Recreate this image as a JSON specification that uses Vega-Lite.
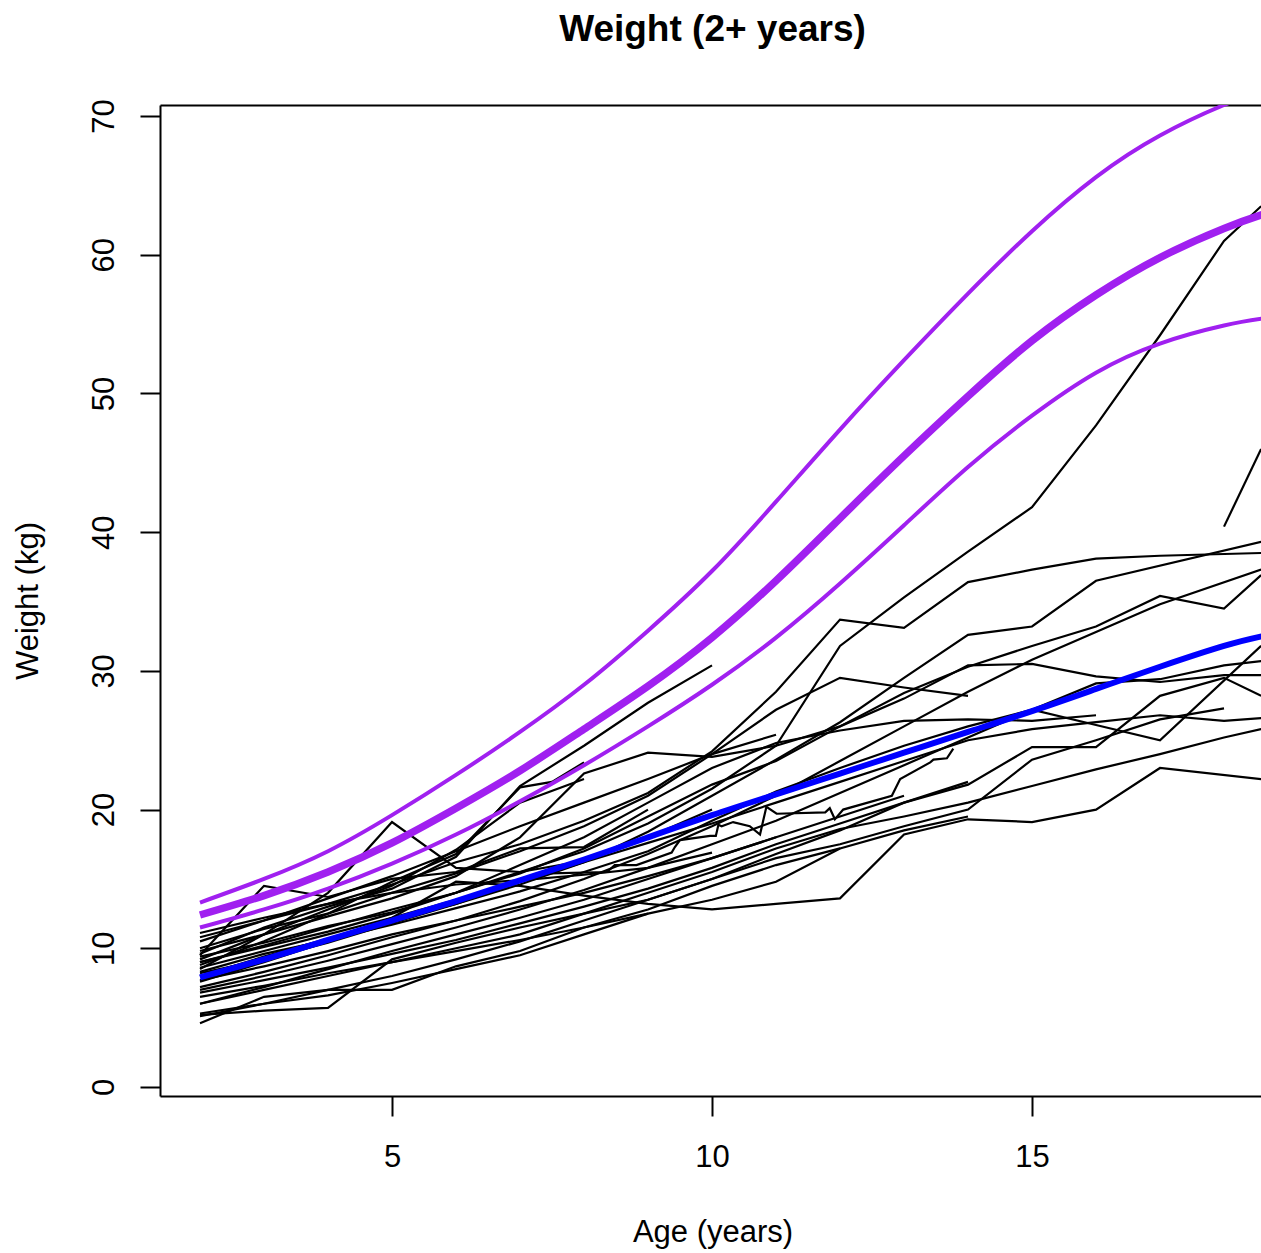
{
"$schema":"https://vega.github.io/schema/vega-lite/v6.json",
"width":1101,"height":991,
"autosize":{"type":"none"},
"padding":{"left":160,"top":105,"right":0,"bottom":157},
"background":"white",
"config":{"view":{"stroke":null},"font":"Liberation Sans"},
"title":{"text":"Weight (2+ years)","fontSize":37,"fontWeight":"bold","color":"black","font":"Liberation Sans","anchor":"middle","frame":"group","baseline":"alphabetic","offset":21,"dx":2},
"datasets":{
"subj":[
{"id":"S1","age":2,"wt":9.0},{"id":"S1","age":3,"wt":10.2},{"id":"S1","age":4,"wt":11.5},{"id":"S1","age":5,"wt":12.8},{"id":"S1","age":6,"wt":14.0},{"id":"S1","age":7,"wt":15.5},{"id":"S1","age":8,"wt":17.0},{"id":"S1","age":9,"wt":19.0},{"id":"S1","age":10,"wt":21.5},{"id":"S1","age":11,"wt":24.6},{"id":"S1","age":12,"wt":31.8},{"id":"S1","age":13,"wt":35.3},{"id":"S1","age":14,"wt":38.6},{"id":"S1","age":15,"wt":41.8},{"id":"S1","age":16,"wt":47.7},{"id":"S1","age":17,"wt":54.2},{"id":"S1","age":18,"wt":61.0},{"id":"S1","age":18.58,"wt":63.5},
{"id":"S2","age":2,"wt":10.5},{"id":"S2","age":3,"wt":12.0},{"id":"S2","age":4,"wt":13.2},{"id":"S2","age":5,"wt":14.6},{"id":"S2","age":6,"wt":16.2},{"id":"S2","age":7,"wt":17.5},{"id":"S2","age":8,"wt":19.2},{"id":"S2","age":9,"wt":21.2},{"id":"S2","age":10,"wt":24.2},{"id":"S2","age":11,"wt":28.5},{"id":"S2","age":12,"wt":33.7},{"id":"S2","age":13,"wt":33.1},{"id":"S2","age":14,"wt":36.4},{"id":"S2","age":15,"wt":37.3},{"id":"S2","age":16,"wt":38.1},{"id":"S2","age":17,"wt":38.3},{"id":"S2","age":18.58,"wt":38.5},
{"id":"S3","age":2,"wt":8.0},{"id":"S3","age":3,"wt":9.4},{"id":"S3","age":4,"wt":10.7},{"id":"S3","age":5,"wt":12.0},{"id":"S3","age":6,"wt":13.2},{"id":"S3","age":7,"wt":14.6},{"id":"S3","age":8,"wt":16.2},{"id":"S3","age":9,"wt":18.4},{"id":"S3","age":10,"wt":21.0},{"id":"S3","age":11,"wt":23.6},{"id":"S3","age":12,"wt":26.3},{"id":"S3","age":13,"wt":29.5},{"id":"S3","age":14,"wt":32.6},{"id":"S3","age":15,"wt":33.2},{"id":"S3","age":16,"wt":36.5},{"id":"S3","age":18.58,"wt":39.3},
{"id":"S4","age":2,"wt":9.4},{"id":"S4","age":3,"wt":10.4},{"id":"S4","age":4,"wt":11.6},{"id":"S4","age":5,"wt":12.6},{"id":"S4","age":6,"wt":14.0},{"id":"S4","age":7,"wt":15.4},{"id":"S4","age":8,"wt":17.2},{"id":"S4","age":9,"wt":19.5},{"id":"S4","age":10,"wt":21.8},{"id":"S4","age":11,"wt":23.5},{"id":"S4","age":12,"wt":26.0},{"id":"S4","age":13,"wt":28.4},{"id":"S4","age":14,"wt":30.3},{"id":"S4","age":15,"wt":31.8},{"id":"S4","age":16,"wt":33.2},{"id":"S4","age":17,"wt":35.4},{"id":"S4","age":18,"wt":34.5},{"id":"S4","age":18.58,"wt":36.9},
{"id":"S5","age":2,"wt":7.2},{"id":"S5","age":3,"wt":8.3},{"id":"S5","age":4,"wt":9.5},{"id":"S5","age":5,"wt":10.8},{"id":"S5","age":6,"wt":12.0},{"id":"S5","age":7,"wt":13.4},{"id":"S5","age":8,"wt":15.0},{"id":"S5","age":9,"wt":16.8},{"id":"S5","age":10,"wt":18.8},{"id":"S5","age":11,"wt":21.0},{"id":"S5","age":12,"wt":23.5},{"id":"S5","age":13,"wt":26.0},{"id":"S5","age":14,"wt":28.5},{"id":"S5","age":15,"wt":30.8},{"id":"S5","age":16,"wt":32.8},{"id":"S5","age":17,"wt":34.8},{"id":"S5","age":18.58,"wt":37.3},
{"id":"S6","age":2,"wt":8.3},{"id":"S6","age":3,"wt":9.6},{"id":"S6","age":4,"wt":10.6},{"id":"S6","age":5,"wt":11.7},{"id":"S6","age":6,"wt":12.9},{"id":"S6","age":7,"wt":14.1},{"id":"S6","age":8,"wt":15.5},{"id":"S6","age":9,"wt":17.0},{"id":"S6","age":10,"wt":19.2},{"id":"S6","age":11,"wt":21.3},{"id":"S6","age":12,"wt":23.0},{"id":"S6","age":13,"wt":24.6},{"id":"S6","age":14,"wt":26.0},{"id":"S6","age":15,"wt":27.2},{"id":"S6","age":16,"wt":26.1},{"id":"S6","age":17,"wt":25.0},{"id":"S6","age":18.58,"wt":31.8},
{"id":"S7","age":2,"wt":9.8},{"id":"S7","age":3,"wt":11.0},{"id":"S7","age":4,"wt":12.3},{"id":"S7","age":5,"wt":13.6},{"id":"S7","age":6,"wt":15.2},{"id":"S7","age":7,"wt":18.0},{"id":"S7","age":8,"wt":22.6},{"id":"S7","age":9,"wt":24.1},{"id":"S7","age":10,"wt":23.8},{"id":"S7","age":11,"wt":24.6},{"id":"S7","age":12,"wt":26.0},{"id":"S7","age":13,"wt":28.0},{"id":"S7","age":14,"wt":30.4},{"id":"S7","age":15,"wt":30.5},{"id":"S7","age":16,"wt":29.6},{"id":"S7","age":17,"wt":29.2},{"id":"S7","age":18,"wt":29.7},{"id":"S7","age":18.58,"wt":29.7},
{"id":"S8","age":2,"wt":7.0},{"id":"S8","age":3,"wt":8.0},{"id":"S8","age":4,"wt":9.1},{"id":"S8","age":5,"wt":10.3},{"id":"S8","age":6,"wt":11.5},{"id":"S8","age":7,"wt":12.8},{"id":"S8","age":8,"wt":14.2},{"id":"S8","age":9,"wt":15.8},{"id":"S8","age":10,"wt":17.5},{"id":"S8","age":11,"wt":19.2},{"id":"S8","age":12,"wt":21.2},{"id":"S8","age":13,"wt":23.2},{"id":"S8","age":14,"wt":25.2},{"id":"S8","age":15,"wt":27.2},{"id":"S8","age":16,"wt":29.1},{"id":"S8","age":17,"wt":29.4},{"id":"S8","age":18,"wt":30.4},{"id":"S8","age":18.58,"wt":30.7},
{"id":"S9","age":2,"wt":6.8},{"id":"S9","age":3,"wt":7.7},{"id":"S9","age":4,"wt":8.6},{"id":"S9","age":5,"wt":9.6},{"id":"S9","age":6,"wt":10.6},{"id":"S9","age":7,"wt":11.8},{"id":"S9","age":8,"wt":13.0},{"id":"S9","age":9,"wt":14.3},{"id":"S9","age":10,"wt":15.8},{"id":"S9","age":11,"wt":17.5},{"id":"S9","age":12,"wt":19.0},{"id":"S9","age":13,"wt":20.5},{"id":"S9","age":14,"wt":21.8},{"id":"S9","age":15,"wt":24.5},{"id":"S9","age":16,"wt":24.5},{"id":"S9","age":17,"wt":28.2},{"id":"S9","age":18,"wt":29.5},{"id":"S9","age":18.58,"wt":28.2},
{"id":"S10","age":2,"wt":8.6},{"id":"S10","age":3,"wt":9.8},{"id":"S10","age":4,"wt":11.0},{"id":"S10","age":5,"wt":12.2},{"id":"S10","age":6,"wt":13.5},{"id":"S10","age":7,"wt":14.8},{"id":"S10","age":8,"wt":16.2},{"id":"S10","age":9,"wt":17.6},{"id":"S10","age":10,"wt":19.0},{"id":"S10","age":11,"wt":20.5},{"id":"S10","age":12,"wt":22.0},{"id":"S10","age":13,"wt":23.5},{"id":"S10","age":14,"wt":25.0},{"id":"S10","age":15,"wt":25.8},{"id":"S10","age":16,"wt":26.3},{"id":"S10","age":17,"wt":26.8},{"id":"S10","age":18,"wt":26.4},{"id":"S10","age":18.58,"wt":26.6},
{"id":"S11","age":2,"wt":6.0},{"id":"S11","age":3,"wt":7.0},{"id":"S11","age":4,"wt":8.0},{"id":"S11","age":5,"wt":9.0},{"id":"S11","age":6,"wt":10.0},{"id":"S11","age":7,"wt":11.0},{"id":"S11","age":8,"wt":12.5},{"id":"S11","age":9,"wt":14.0},{"id":"S11","age":10,"wt":15.5},{"id":"S11","age":11,"wt":17.2},{"id":"S11","age":12,"wt":18.6},{"id":"S11","age":13,"wt":19.5},{"id":"S11","age":14,"wt":20.5},{"id":"S11","age":15,"wt":21.7},{"id":"S11","age":16,"wt":22.9},{"id":"S11","age":17,"wt":24.0},{"id":"S11","age":18,"wt":25.2},{"id":"S11","age":18.58,"wt":25.8},
{"id":"S12","age":2,"wt":7.6},{"id":"S12","age":3,"wt":9.0},{"id":"S12","age":4,"wt":10.5},{"id":"S12","age":5,"wt":12.2},{"id":"S12","age":6,"wt":14.8},{"id":"S12","age":7,"wt":14.5},{"id":"S12","age":8,"wt":13.8},{"id":"S12","age":9,"wt":13.2},{"id":"S12","age":10,"wt":12.8},{"id":"S12","age":11,"wt":13.2},{"id":"S12","age":12,"wt":13.6},{"id":"S12","age":13,"wt":18.2},{"id":"S12","age":14,"wt":19.3},{"id":"S12","age":15,"wt":19.1},{"id":"S12","age":16,"wt":20.0},{"id":"S12","age":17,"wt":23.0},{"id":"S12","age":18.58,"wt":22.2},
{"id":"S13","age":18,"wt":40.4},{"id":"S13","age":18.58,"wt":46.0},
{"id":"S14","age":2,"wt":5.1},{"id":"S14","age":3,"wt":6.0},{"id":"S14","age":4,"wt":7.0},{"id":"S14","age":5,"wt":8.0},{"id":"S14","age":6,"wt":9.2},{"id":"S14","age":7,"wt":10.5},{"id":"S14","age":8,"wt":12.0},{"id":"S14","age":9,"wt":13.5},{"id":"S14","age":10,"wt":15.0},{"id":"S14","age":11,"wt":16.5},{"id":"S14","age":12,"wt":17.5},{"id":"S14","age":13,"wt":18.8},{"id":"S14","age":14,"wt":20.0},{"id":"S14","age":15,"wt":23.6},{"id":"S14","age":16,"wt":25.0},{"id":"S14","age":17,"wt":26.5},{"id":"S14","age":18,"wt":27.3},
{"id":"S15","age":2,"wt":9.0},{"id":"S15","age":3,"wt":10.1},{"id":"S15","age":4,"wt":11.2},{"id":"S15","age":5,"wt":12.5},{"id":"S15","age":6,"wt":14.0},{"id":"S15","age":7,"wt":16.0},{"id":"S15","age":8,"wt":18.0},{"id":"S15","age":9,"wt":20.5},{"id":"S15","age":10,"wt":23.0},{"id":"S15","age":11,"wt":24.8},{"id":"S15","age":12,"wt":25.7},{"id":"S15","age":13,"wt":26.4},{"id":"S15","age":14,"wt":26.5},{"id":"S15","age":15,"wt":26.4},{"id":"S15","age":16,"wt":26.8},
{"id":"S16","age":2,"wt":10.0},{"id":"S16","age":3,"wt":11.4},{"id":"S16","age":4,"wt":12.5},{"id":"S16","age":5,"wt":14.0},{"id":"S16","age":6,"wt":15.4},{"id":"S16","age":7,"wt":17.0},{"id":"S16","age":8,"wt":18.8},{"id":"S16","age":9,"wt":21.0},{"id":"S16","age":10,"wt":24.0},{"id":"S16","age":11,"wt":27.2},{"id":"S16","age":12,"wt":29.5},{"id":"S16","age":13,"wt":28.8},{"id":"S16","age":14,"wt":28.2},
{"id":"S17","age":2,"wt":10.8},{"id":"S17","age":3,"wt":12.0},{"id":"S17","age":4,"wt":13.6},{"id":"S17","age":5,"wt":15.2},{"id":"S17","age":6,"wt":17.0},{"id":"S17","age":7,"wt":18.8},{"id":"S17","age":8,"wt":20.5},{"id":"S17","age":9,"wt":22.2},{"id":"S17","age":10,"wt":24.0},{"id":"S17","age":11,"wt":25.4},
{"id":"S18","age":2,"wt":9.6},{"id":"S18","age":3,"wt":11.5},{"id":"S18","age":4,"wt":13.0},{"id":"S18","age":5,"wt":14.3},{"id":"S18","age":6,"wt":16.6},{"id":"S18","age":7,"wt":21.7},{"id":"S18","age":8,"wt":24.6},{"id":"S18","age":9,"wt":27.7},{"id":"S18","age":10,"wt":30.4},
{"id":"S19","age":2,"wt":8.8},{"id":"S19","age":3,"wt":10.5},{"id":"S19","age":4,"wt":12.5},{"id":"S19","age":5,"wt":14.8},{"id":"S19","age":6,"wt":16.8},{"id":"S19","age":7,"wt":21.6},{"id":"S19","age":7.5,"wt":22.0},{"id":"S19","age":8,"wt":23.4},
{"id":"S20","age":2,"wt":9.2},{"id":"S20","age":3,"wt":11.0},{"id":"S20","age":4,"wt":12.8},{"id":"S20","age":5,"wt":14.5},{"id":"S20","age":6,"wt":17.1},{"id":"S20","age":7,"wt":20.5},{"id":"S20","age":8,"wt":22.2},
{"id":"S21","age":2,"wt":8.5},{"id":"S21","age":3,"wt":11.0},{"id":"S21","age":4,"wt":14.0},{"id":"S21","age":5,"wt":19.1},{"id":"S21","age":6,"wt":15.8},{"id":"S21","age":7,"wt":15.5},{"id":"S21","age":8,"wt":16.3},{"id":"S21","age":9,"wt":18.0},{"id":"S21","age":10,"wt":20.0},
{"id":"S22","age":2,"wt":8.2},{"id":"S22","age":3,"wt":9.2},{"id":"S22","age":4,"wt":10.4},{"id":"S22","age":5,"wt":11.8},{"id":"S22","age":6,"wt":13.2},{"id":"S22","age":7,"wt":14.8},{"id":"S22","age":7.47,"wt":15.4},{"id":"S22","age":8.36,"wt":15.5},{"id":"S22","age":8.48,"wt":16.0},{"id":"S22","age":8.82,"wt":16.0},{"id":"S22","age":9.37,"wt":16.9},{"id":"S22","age":9.42,"wt":17.3},{"id":"S22","age":9.5,"wt":17.8},{"id":"S22","age":9.97,"wt":18.1},{"id":"S22","age":10.06,"wt":18.1},{"id":"S22","age":10.1,"wt":18.9},{"id":"S22","age":10.15,"wt":18.8},{"id":"S22","age":10.33,"wt":19.1},{"id":"S22","age":10.59,"wt":18.8},{"id":"S22","age":10.75,"wt":18.2},{"id":"S22","age":10.85,"wt":20.2},{"id":"S22","age":11.01,"wt":19.7},{"id":"S22","age":11.77,"wt":19.8},{"id":"S22","age":11.84,"wt":20.1},{"id":"S22","age":11.92,"wt":19.3},{"id":"S22","age":12.05,"wt":20.0},{"id":"S22","age":12.81,"wt":21.0},{"id":"S22","age":12.94,"wt":22.2},{"id":"S22","age":13.41,"wt":23.4},{"id":"S22","age":13.46,"wt":23.6},{"id":"S22","age":13.67,"wt":23.7},{"id":"S22","age":13.77,"wt":24.4},
{"id":"S23","age":2,"wt":9.5},{"id":"S23","age":3,"wt":14.5},{"id":"S23","age":4,"wt":13.7},{"id":"S23","age":5,"wt":15.0},{"id":"S23","age":6,"wt":15.5},{"id":"S23","age":7,"wt":17.2},{"id":"S23","age":8,"wt":17.3},{"id":"S23","age":9,"wt":20.0},
{"id":"S24","age":2,"wt":4.6},{"id":"S24","age":3,"wt":6.5},{"id":"S24","age":4,"wt":7.0},{"id":"S24","age":5,"wt":7.0},{"id":"S24","age":6,"wt":8.7},{"id":"S24","age":7,"wt":9.8},{"id":"S24","age":8,"wt":11.5},{"id":"S24","age":9,"wt":12.8},{"id":"S24","age":10,"wt":14.5},{"id":"S24","age":11,"wt":16.0},{"id":"S24","age":12,"wt":17.2},
{"id":"S25","age":2,"wt":5.2},{"id":"S25","age":3,"wt":5.5},{"id":"S25","age":4,"wt":5.7},{"id":"S25","age":5,"wt":9.2},{"id":"S25","age":6,"wt":10.4},{"id":"S25","age":7,"wt":11.5},{"id":"S25","age":8,"wt":12.5},{"id":"S25","age":9,"wt":13.5},{"id":"S25","age":10,"wt":15.0},{"id":"S25","age":11,"wt":16.8},{"id":"S25","age":12,"wt":18.5},{"id":"S25","age":13,"wt":20.5},{"id":"S25","age":14,"wt":22.0},
{"id":"S26","age":2,"wt":5.3},{"id":"S26","age":3,"wt":6.0},{"id":"S26","age":4,"wt":6.6},{"id":"S26","age":5,"wt":7.5},{"id":"S26","age":6,"wt":8.5},{"id":"S26","age":7,"wt":9.5},{"id":"S26","age":8,"wt":11.0},{"id":"S26","age":9,"wt":12.5},
{"id":"S27","age":2,"wt":6.0},{"id":"S27","age":3,"wt":7.2},{"id":"S27","age":4,"wt":8.5},{"id":"S27","age":5,"wt":9.8},{"id":"S27","age":6,"wt":11.0},{"id":"S27","age":7,"wt":12.2},{"id":"S27","age":8,"wt":13.5},{"id":"S27","age":9,"wt":15.0},{"id":"S27","age":10,"wt":16.5},{"id":"S27","age":11,"wt":18.0},
{"id":"S28","age":2,"wt":6.5},{"id":"S28","age":3,"wt":7.3},{"id":"S28","age":4,"wt":8.2},{"id":"S28","age":5,"wt":9.0},{"id":"S28","age":6,"wt":9.8},{"id":"S28","age":7,"wt":10.6},{"id":"S28","age":8,"wt":11.5},{"id":"S28","age":9,"wt":12.5},{"id":"S28","age":10,"wt":13.5},{"id":"S28","age":11,"wt":14.8},{"id":"S28","age":12,"wt":17.2},{"id":"S28","age":13,"wt":18.5},{"id":"S28","age":14,"wt":19.5},
{"id":"S29","age":2,"wt":11.1},{"id":"S29","age":3,"wt":12.2},{"id":"S29","age":4,"wt":13.2},{"id":"S29","age":5,"wt":14.0},{"id":"S29","age":6,"wt":14.6},{"id":"S29","age":7,"wt":14.9},{"id":"S29","age":8,"wt":15.3},{"id":"S29","age":9,"wt":15.8},{"id":"S29","age":10,"wt":16.9},
{"id":"S30","age":2,"wt":7.7},{"id":"S30","age":3,"wt":8.7},{"id":"S30","age":4,"wt":9.8},{"id":"S30","age":5,"wt":11.0},{"id":"S30","age":6,"wt":12.0},{"id":"S30","age":7,"wt":13.0},{"id":"S30","age":8,"wt":14.0},{"id":"S30","age":9,"wt":15.2},{"id":"S30","age":10,"wt":16.5},{"id":"S30","age":11,"wt":18.0},{"id":"S30","age":12,"wt":19.5},{"id":"S30","age":13,"wt":21.0}
],
"cent":[
{"curve":"upper","age":2,"wt":13.3},{"curve":"upper","age":3,"wt":15.0},{"curve":"upper","age":4,"wt":17.0},{"curve":"upper","age":5,"wt":19.6},{"curve":"upper","age":6,"wt":22.5},{"curve":"upper","age":7,"wt":25.6},{"curve":"upper","age":8,"wt":29.0},{"curve":"upper","age":9,"wt":32.9},{"curve":"upper","age":10,"wt":37.2},{"curve":"upper","age":11,"wt":42.2},{"curve":"upper","age":12,"wt":47.4},{"curve":"upper","age":13,"wt":52.4},{"curve":"upper","age":14,"wt":57.2},{"curve":"upper","age":15,"wt":61.7},{"curve":"upper","age":16,"wt":65.6},{"curve":"upper","age":17,"wt":68.6},{"curve":"upper","age":18,"wt":70.8},{"curve":"upper","age":18.6,"wt":71.8},
{"curve":"median","age":2,"wt":12.4},{"curve":"median","age":3,"wt":13.8},{"curve":"median","age":4,"wt":15.5},{"curve":"median","age":5,"wt":17.6},{"curve":"median","age":6,"wt":20.1},{"curve":"median","age":7,"wt":22.8},{"curve":"median","age":8,"wt":25.8},{"curve":"median","age":9,"wt":28.9},{"curve":"median","age":10,"wt":32.4},{"curve":"median","age":11,"wt":36.5},{"curve":"median","age":12,"wt":41.0},{"curve":"median","age":13,"wt":45.5},{"curve":"median","age":14,"wt":49.8},{"curve":"median","age":15,"wt":53.8},{"curve":"median","age":16,"wt":57.1},{"curve":"median","age":17,"wt":59.8},{"curve":"median","age":18,"wt":61.9},{"curve":"median","age":18.6,"wt":62.9},
{"curve":"lower","age":2,"wt":11.5},{"curve":"lower","age":3,"wt":12.8},{"curve":"lower","age":4,"wt":14.3},{"curve":"lower","age":5,"wt":16.1},{"curve":"lower","age":6,"wt":18.2},{"curve":"lower","age":7,"wt":20.6},{"curve":"lower","age":8,"wt":23.2},{"curve":"lower","age":9,"wt":26.0},{"curve":"lower","age":10,"wt":29.0},{"curve":"lower","age":11,"wt":32.4},{"curve":"lower","age":12,"wt":36.3},{"curve":"lower","age":13,"wt":40.5},{"curve":"lower","age":14,"wt":44.7},{"curve":"lower","age":15,"wt":48.4},{"curve":"lower","age":16,"wt":51.5},{"curve":"lower","age":17,"wt":53.6},{"curve":"lower","age":18,"wt":54.9},{"curve":"lower","age":18.6,"wt":55.4},
{"curve":"mean","age":2,"wt":7.9},{"curve":"mean","age":3,"wt":9.2},{"curve":"mean","age":4,"wt":10.6},{"curve":"mean","age":5,"wt":12.0},{"curve":"mean","age":6,"wt":13.4},{"curve":"mean","age":7,"wt":14.9},{"curve":"mean","age":8,"wt":16.4},{"curve":"mean","age":9,"wt":18.0},{"curve":"mean","age":10,"wt":19.6},{"curve":"mean","age":11,"wt":21.1},{"curve":"mean","age":12,"wt":22.6},{"curve":"mean","age":13,"wt":24.1},{"curve":"mean","age":14,"wt":25.6},{"curve":"mean","age":15,"wt":27.1},{"curve":"mean","age":16,"wt":28.7},{"curve":"mean","age":17,"wt":30.3},{"curve":"mean","age":18,"wt":31.8},{"curve":"mean","age":18.6,"wt":32.5}
]
},
"layer":[
{"data":{"name":"subj"},
 "mark":{"type":"line","color":"black","strokeWidth":2.2,"clip":true},
 "encoding":{
  "x":{"field":"age","type":"quantitative","scale":{"domain":[1.375,18.578],"nice":false,"zero":false},
   "axis":{"orient":"bottom","values":[5,10,15],"domain":true,"domainColor":"black","domainWidth":2,"ticks":true,"tickSize":20,"tickWidth":2,"tickColor":"black","grid":false,"labelFontSize":31,"labelFont":"Liberation Sans","labelColor":"black","labelBaseline":"top","labelPadding":26,"labelFlush":false,"labelOverlap":false,"title":"Age (years)","titleFont":"Liberation Sans","titleFontSize":31,"titleFontWeight":"normal","titleColor":"black","titleBaseline":"alphabetic","titleY":145,"titleX":552.5}},
  "y":{"field":"wt","type":"quantitative","scale":{"domain":[-0.65,70.8],"nice":false,"zero":false},
   "axis":{"orient":"left","values":[0,10,20,30,40,50,60,70],"domain":true,"domainColor":"black","domainWidth":2,"ticks":true,"tickSize":20,"tickWidth":2,"tickColor":"black","grid":false,"labelFontSize":31,"labelFont":"Liberation Sans","labelColor":"black","labelAngle":270,"labelAlign":"center","labelBaseline":"alphabetic","labelPadding":27,"labelFlush":false,"labelOverlap":false,"title":"Weight (kg)","titleFont":"Liberation Sans","titleFontSize":31,"titleFontWeight":"normal","titleColor":"black","titleAngle":270,"titleAlign":"center","titleBaseline":"alphabetic","titleX":-123,"titleY":495.5}},
  "detail":{"field":"id","type":"nominal"}}},
{"data":{"name":"cent"},"transform":[{"filter":"datum.curve === 'upper'"}],
 "mark":{"type":"line","color":"#A020F0","strokeWidth":4,"clip":true,"interpolate":"natural"},
 "encoding":{"x":{"field":"age","type":"quantitative","axis":{"orient":"top","domain":true,"domainColor":"black","domainWidth":2,"ticks":false,"labels":false,"grid":false,"title":null}},"y":{"field":"wt","type":"quantitative"}}},
{"data":{"name":"cent"},"transform":[{"filter":"datum.curve === 'median'"}],
 "mark":{"type":"line","color":"#A020F0","strokeWidth":7.5,"clip":true,"interpolate":"natural"},
 "encoding":{"x":{"field":"age","type":"quantitative","axis":null},"y":{"field":"wt","type":"quantitative"}}},
{"data":{"name":"cent"},"transform":[{"filter":"datum.curve === 'lower'"}],
 "mark":{"type":"line","color":"#A020F0","strokeWidth":4,"clip":true,"interpolate":"natural"},
 "encoding":{"x":{"field":"age","type":"quantitative","axis":null},"y":{"field":"wt","type":"quantitative"}}},
{"data":{"name":"cent"},"transform":[{"filter":"datum.curve === 'mean'"}],
 "mark":{"type":"line","color":"#0000FF","strokeWidth":6,"clip":true,"interpolate":"natural"},
 "encoding":{"x":{"field":"age","type":"quantitative","axis":null},"y":{"field":"wt","type":"quantitative"}}}
],
"resolve":{"axis":{"x":"independent"}}
}
